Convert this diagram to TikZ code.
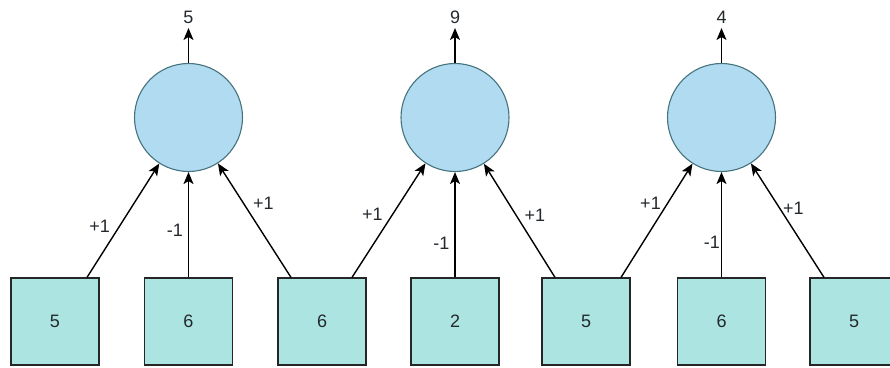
\documentclass[tikz,border=0pt]{standalone}
\usepackage{fontspec}
\setmainfont{Liberation Sans}
\usetikzlibrary{arrows.meta}
\definecolor{boxfill}{RGB}{172,228,226}
\definecolor{circfill}{RGB}{176,219,240}
\definecolor{circline}{RGB}{70,115,125}
\definecolor{txt}{RGB}{35,40,45}
\begin{document}
\begin{tikzpicture}[x=1pt,y=-1pt,
  every node/.style={font=\fontsize{18}{21}\selectfont, text=txt},
  inbox/.style={draw=black!85, fill=boxfill, line width=1.2pt, minimum width=88pt, minimum height=87pt, inner sep=0pt},
  neuron/.style={circle, draw=circline, fill=circfill, line width=1.1pt, minimum size=108pt, inner sep=0pt},
  arr/.style={line width=1.4pt, -{Stealth[length=12pt,width=10pt,inset=3pt]}},
  lbl/.style={inner sep=3pt}
]
\useasboundingbox (0,0) rectangle (890,367);
% neurons
\node[neuron] (c1) at (188.5,117.5) {};
\node[neuron] (c2) at (455,117.5) {};
\node[neuron] (c3) at (721.5,117.5) {};
% inputs
\node[inbox] (b1) at (55,321.5) {5};
\node[inbox] (b2) at (188.5,321.5) {6};
\node[inbox] (b3) at (322,321.5) {6};
\node[inbox] (b4) at (455,321.5) {2};
\node[inbox] (b5) at (586,321.5) {5};
\node[inbox] (b6) at (721.5,321.5) {6};
\node[inbox] (b7) at (854,321.5) {5};
% outputs
\coordinate (t1) at (188.5,28);
\coordinate (t2) at (455,28);
\coordinate (t3) at (721.5,28);
\node[inner sep=0pt] (o1) at (188.5,17) {5};
\node[inner sep=0pt] (o2) at (455,17) {9};
\node[inner sep=0pt] (o3) at (721.5,17) {4};
\draw[arr] (c1) -- (t1);
\draw[arr] (c2) -- (t2);
\draw[arr] (c3) -- (t3);
% neuron 1
\draw[arr] ([xshift=32pt]b1.north) -- (c1) node[lbl, pos=0.45, anchor=east, xshift=-6pt] {+1};
\draw[arr] (b2.north) -- (c1) node[lbl, pos=0.45, anchor=east, xshift=-2pt] {-1};
\draw[arr] ([xshift=-31pt]b3.north) -- (c1) node[lbl, pos=0.65, anchor=west, xshift=6pt] {+1};
% neuron 2
\draw[arr] ([xshift=30pt]b3.north) -- (c2) node[lbl, pos=0.55, anchor=east, xshift=-6pt] {+1};
\draw[arr] (b4.north) -- (c2) node[lbl, pos=0.32, anchor=east, xshift=-2pt] {-1};
\draw[arr] ([xshift=-31pt]b5.north) -- (c2) node[lbl, pos=0.55, anchor=west, xshift=5pt] {+1};
% neuron 3
\draw[arr] ([xshift=35pt]b5.north) -- (c3) node[lbl, pos=0.65, anchor=east, xshift=-3pt] {+1};
\draw[arr] (b6.north) -- (c3) node[lbl, pos=0.33, anchor=east, xshift=2pt] {-1};
\draw[arr] ([xshift=-30pt]b7.north) -- (c3) node[lbl, pos=0.61, anchor=west, xshift=0pt] {+1};
\end{tikzpicture}
\end{document}
